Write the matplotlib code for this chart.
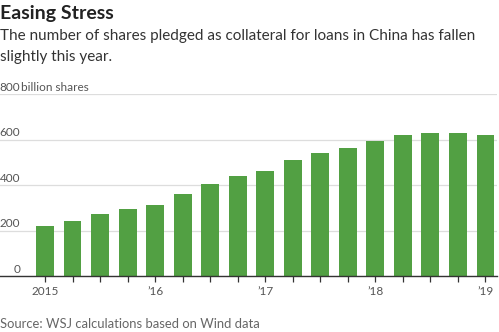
import matplotlib
matplotlib.use("Agg")
import matplotlib.pyplot as plt

# Shares pledged as collateral, quarterly, billions
quarters = ["2015 Q1", "2015 Q2", "2015 Q3", "2015 Q4",
            "2016 Q1", "2016 Q2", "2016 Q3", "2016 Q4",
            "2017 Q1", "2017 Q2", "2017 Q3", "2017 Q4",
            "2018 Q1", "2018 Q2", "2018 Q3", "2018 Q4",
            "2019 Q1"]
pledged = [221, 243, 271, 294, 312, 362, 406, 438,
           461, 511, 539, 561, 593, 620, 628, 628, 620]
year_label_pos = [0, 4, 8, 12, 16]
year_labels = ["2015", "\u201916", "\u201917", "\u201918", "\u201919"]
y_ticks = [0, 200, 400, 600, 800]
y_labels = ["0", "200", "400", "600", "800"]
y_unit = " billion shares"

plt.rcParams["font.family"] = ["Lato", "DejaVu Sans"]

W, H = 499, 332
fig = plt.figure(figsize=(W / 100, H / 100), dpi=100)

def fx(px):
    return px / W

def fy(py):
    return 1 - py / H

base_px, top_px = 276, 94
ax = fig.add_axes([0, fy(base_px), fx(497), (base_px - top_px) / H])
ax.set_ylim(0, 800)
ax.set_xlim(-45 / 27.53, (497 - 45) / 27.53)

x = list(range(len(quarters)))
ax.bar(x, pledged, width=0.65, color="#52a043", zorder=2)

for s in ["left", "right", "top"]:
    ax.spines[s].set_visible(False)
ax.spines["bottom"].set_color("#333333")
ax.spines["bottom"].set_linewidth(1.0)
ax.spines["bottom"].set_zorder(3)

ax.set_yticks(y_ticks)
ax.set_yticklabels([])
ax.tick_params(axis="y", length=0)
ax.grid(axis="y", color="#dddddd", linewidth=0.9, zorder=0)

ax.set_xticks(x)
ax.set_xticklabels([year_labels[year_label_pos.index(i)] if i in year_label_pos else ""
                    for i in x])
ax.tick_params(axis="x", length=4, width=0.9, color="#333333", direction="out",
               labelsize=8.5, labelcolor="#555555", pad=3)

# y labels sit just above their gridlines, numbers right-aligned
num_right = fx(20.5) / fx(497)
for v, lab in zip(y_ticks, y_labels):
    ax.text(num_right, v + 6, lab, transform=ax.get_yaxis_transform(), ha="right",
            va="bottom", fontsize=8.5, color="#555555", zorder=4)
ax.text(num_right + 0.002, 800 + 6, y_unit.strip(), transform=ax.get_yaxis_transform(),
        ha="left", va="bottom", fontsize=8.5, color="#555555", zorder=4)

fig.text(0.0, fy(18.5), "Easing Stress", fontsize=14, fontweight="bold",
         color="#222222", ha="left", va="baseline")
fig.text(0.0, fy(40), "The number of shares pledged as collateral for loans in China has fallen",
         fontsize=11, color="#333333", ha="left", va="baseline")
fig.text(0.0, fy(60.5), "slightly this year.",
         fontsize=11, color="#333333", ha="left", va="baseline")
fig.text(0.0, fy(328), "Source: WSJ calculations based on Wind data",
         fontsize=9.4, color="#666666", ha="left", va="baseline")

fig.savefig("out.png", dpi=100, facecolor="white")
